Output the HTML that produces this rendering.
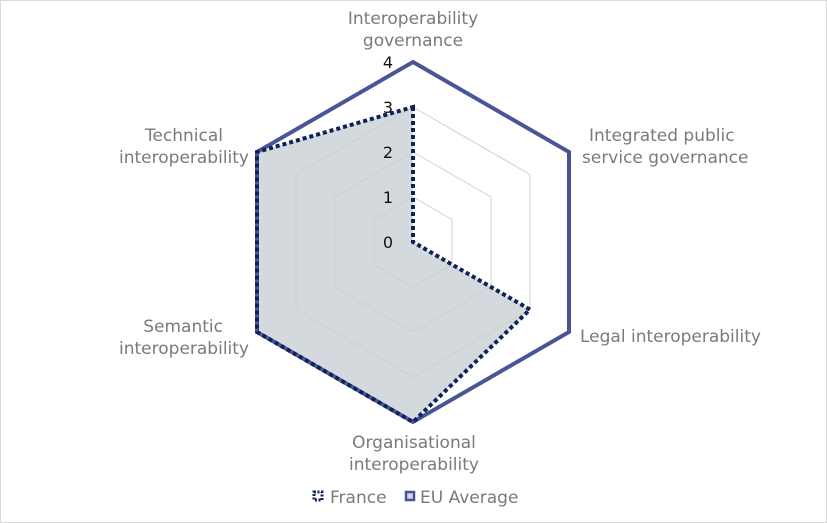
<!DOCTYPE html>
<html><head><meta charset="utf-8"><style>
body{margin:0;background:#fff}
svg{display:block}
text{font-family:"DejaVu Sans","Liberation Sans",sans-serif;font-size:17px;fill:#7a7a7a}
text.n{fill:#111;font-size:16px}
</style></head><body>
<svg width="827" height="523" viewBox="0 0 827 523">
<rect x="0.5" y="0.5" width="826" height="522" fill="#fff" stroke="#d9d9d9"/>
<polygon points="413,107 413,242 530,309.5 413,422 257,332 257,152" fill="#d3d9dd"/>
<g fill="none" stroke="#cfcfcf" stroke-width="1">
<polygon points="413,197 452,219.5 452,264.5 413,287 374,264.5 374,219.5"/>
<polygon points="413,152 491,197 491,287 413,332 335,287 335,197"/>
<polygon points="413,107 530,174.5 530,309.5 413,377 296,309.5 296,174.5"/>
</g>
<polygon points="413,62 569,152 569,332 413,422 257,332 257,152" fill="none" stroke="#4a5598" stroke-width="4"/>
<polygon points="413,107 413,242 530,309.5 413,422 257,332 257,152" fill="none" stroke="#0f2258" stroke-width="4" stroke-dasharray="4,3"/>
<g text-anchor="end">
<text class="n" x="393" y="68">4</text><text class="n" x="393" y="113">3</text><text class="n" x="393" y="158">2</text><text class="n" x="393" y="203">1</text><text class="n" x="393" y="248">0</text>
</g>
<g text-anchor="middle">
<text x="413" y="24">Interoperability</text><text x="413" y="46">governance</text>
<text x="414" y="448">Organisational</text><text x="414" y="470">interoperability</text>
</g>
<text x="589" y="141">Integrated public</text><text x="582" y="163">service governance</text>
<text x="580" y="342">Legal interoperability</text>
<g text-anchor="end">
<text x="223" y="141">Technical</text><text x="249" y="163">interoperability</text>
<text x="223" y="332">Semantic</text><text x="249" y="354">interoperability</text>
</g>
<rect x="314" y="492" width="8" height="8" fill="none" stroke="#0f2258" stroke-width="3" stroke-dasharray="2,1.5"/>
<text x="330" y="503">France</text>
<rect x="406" y="492" width="8" height="8" fill="#d3d9dd" stroke="#4a5598" stroke-width="2.5"/>
<text x="420" y="503">EU Average</text>
</svg>
</body></html>
